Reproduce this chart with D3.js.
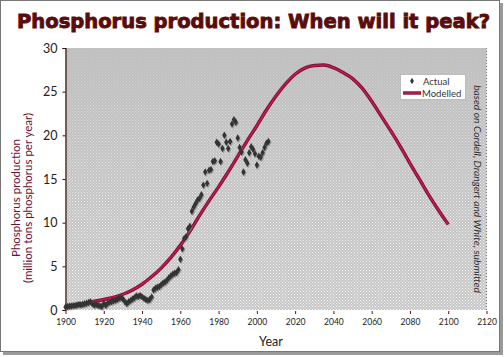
<!DOCTYPE html>
<html><head><meta charset="utf-8">
<script src="https://cdn.jsdelivr.net/npm/d3@7"></script>
<style>html,body{margin:0;padding:0;background:#fff;}svg{display:block;}</style>
</head><body>
<svg id="c" width="504" height="357"></svg>
<script>
const actualYears = d3.range(1900, 2007);
const actualValues = [
0.35,0.40,0.42,0.45,0.50,0.52,0.58,0.62,0.60,0.66,
0.72,0.78,0.85,0.95,0.70,0.58,0.62,0.55,0.45,0.40,
0.75,0.55,0.78,0.90,0.95,1.05,1.10,1.20,1.35,1.40,
1.25,0.95,0.75,0.95,1.10,1.25,1.40,1.60,1.55,1.65,
1.50,1.35,1.20,1.10,1.20,1.50,2.30,2.50,2.60,2.70,
2.90,3.10,3.20,3.40,3.70,3.90,4.10,4.20,4.30,4.60,
5.80,7.00,8.20,8.40,9.30,9.60,11.3,11.8,12.2,12.6,
12.8,13.2,14.3,15.8,14.5,16.0,16.1,17.0,17.1,19.2,
19.0,17.0,18.5,20.0,19.2,18.5,19.3,21.3,21.8,21.5,
19.7,18.6,18.1,15.8,17.2,16.8,18.0,18.7,18.4,17.9,
16.6,17.6,17.5,18.0,18.6,19.1,19.3];
const modelYears = [1914,1920,1925,1930,1935,1940,1945,1950,1955,1960,1965,1970,1975,1980,1985,1990,1995,2000,2005,2010,2015,2020,2025,2030,2035,2040,2045,2050,2055,2060,2065,2070,2075,2080,2085,2090,2095,2100];
const modelValues = [0.95,1.2,1.45,1.8,2.3,2.95,3.8,4.8,6.0,7.4,9.0,10.8,12.5,14.1,15.8,17.6,19.4,21.1,22.9,24.5,25.9,27.0,27.7,28.0,28.05,27.75,27.2,26.5,25.4,23.9,22.2,20.5,18.7,16.8,14.95,13.1,11.4,9.8];
const xTicks = [1900,1920,1940,1960,1980,2000,2020,2040,2060,2080,2100,2120];
const xTickLabels = ["1900","1920","1940","1960","1980","2000","2020","2040","2060","2080","2100","2120"];
const yTicks = [0,5,10,15,20,25,30];

const svg = d3.select("#c");
const defs = svg.append("defs");

// frame with shadow
svg.append("rect").attr("x",3).attr("y",3).attr("width",500).attr("height",352).attr("fill","#9a9a9a");
svg.append("rect").attr("x",0.5).attr("y",0.5).attr("width",499).attr("height",351).attr("fill","#fff").attr("stroke","#777");

const x = d3.scaleLinear().domain([1900,2120]).range([65.5,486.5]);
const y = d3.scaleLinear().domain([0,30]).range([310,48]);

const grad = defs.append("linearGradient").attr("id","bg").attr("x1",0).attr("y1",0).attr("x2",0).attr("y2",1);
grad.append("stop").attr("offset","0%").attr("stop-color","#bfbfbf");
grad.append("stop").attr("offset","40%").attr("stop-color","#c2c2c2");
grad.append("stop").attr("offset","100%").attr("stop-color","#c6c6c6");
const pat = defs.append("pattern").attr("id","dots").attr("width",3).attr("height",3).attr("patternUnits","userSpaceOnUse");
pat.append("rect").attr("x",0).attr("y",0).attr("width",1).attr("height",1).attr("fill","#fff");
pat.append("rect").attr("x",1.5).attr("y",1.5).attr("width",1).attr("height",1).attr("fill","#fff");
const mg = defs.append("linearGradient").attr("id","mg").attr("x1",0).attr("y1",0).attr("x2",0).attr("y2",1);
mg.append("stop").attr("offset","0%").attr("stop-color","#fff").attr("stop-opacity",0.1);
mg.append("stop").attr("offset","20%").attr("stop-color","#fff").attr("stop-opacity",0.35);
mg.append("stop").attr("offset","55%").attr("stop-color","#fff").attr("stop-opacity",0.7);
mg.append("stop").attr("offset","100%").attr("stop-color","#fff").attr("stop-opacity",0.95);
const mask = defs.append("mask").attr("id","mk");
mask.append("rect").attr("x",x(1900)).attr("y",y(30)).attr("width",x(2120)-x(1900)).attr("height",y(0)-y(30)).attr("fill","url(#mg)");

svg.append("rect").attr("x",x(1900)).attr("y",y(30)).attr("width",x(2120)-x(1900)).attr("height",y(0)-y(30)).attr("fill","url(#bg)");
svg.append("rect").attr("x",x(1900)).attr("y",y(30)).attr("width",x(2120)-x(1900)).attr("height",y(0)-y(30)).attr("fill","url(#dots)").attr("mask","url(#mk)");

// right dotted border
svg.append("line").attr("x1",x(2120)).attr("x2",x(2120)).attr("y1",y(30)).attr("y2",y(0)).attr("stroke","#777").attr("stroke-dasharray","1,2");

// title
svg.append("text").attr("x",17).attr("y",27.5).attr("textLength",473).attr("lengthAdjust","spacingAndGlyphs")
  .attr("font-family","DejaVu Sans").attr("font-weight","bold").attr("font-size",19.5).attr("fill","#5a0c0c")
  .attr("stroke","#5a0c0c").attr("stroke-width",0.9)
  .text("Phosphorus production: When will it peak?");

// y axis
const yAxis = d3.axisLeft(y).tickValues(yTicks).tickSize(3).tickFormat(d3.format("d"));
const ya = svg.append("g").attr("transform",`translate(${x(1900)},0)`).call(yAxis);
ya.select(".domain").attr("stroke","#3a0a0a").attr("stroke-width",1.2);
ya.selectAll(".tick line").attr("stroke","#3a0a0a");
ya.selectAll("text").attr("font-family","Lato, 'DejaVu Sans'").attr("font-size",12.5).attr("fill","#222").attr("x",-8);

// x axis
const xAxis = d3.axisBottom(x).tickValues(xTicks).tickSize(3).tickFormat((d,i)=>xTickLabels[i]);
const xa = svg.append("g").attr("transform",`translate(0,${y(0)})`).call(xAxis);
xa.select(".domain").remove();
xa.selectAll(".tick line").attr("stroke","#6a0a1a").attr("y1",1).attr("y2",4);
xa.selectAll("text").attr("font-family","Lato, 'DejaVu Sans'").attr("font-size",8.5).attr("fill","#222").attr("y",9);

svg.append("text").attr("x",271).attr("y",346).attr("text-anchor","middle")
  .attr("font-family","Lato, 'DejaVu Sans'").attr("font-size",12.5).attr("fill","#222").text("Year");

// y title
const yt = svg.append("text").attr("transform","translate(20,198) rotate(-90)").attr("text-anchor","middle")
  .attr("font-family","Lato, 'DejaVu Sans'").attr("font-size",11.5).attr("fill","#6a1030");
yt.append("tspan").attr("x",0).attr("dy",0).text("Phosphorus production");
yt.append("tspan").attr("x",0).attr("dy",12).text("(million tons phosphorus per year)");

// source note
svg.append("text").attr("transform","translate(474,189) rotate(90)").attr("text-anchor","middle")
  .attr("font-family","Lato, 'DejaVu Sans'").attr("font-style","italic").attr("font-size",10.3).attr("fill","#333")
  .text("based on Cordell, Drangert and White, submitted");

// model line
const line = d3.line().x((d,i)=>x(modelYears[i])).y(d=>y(d)).curve(d3.curveMonotoneX);
svg.append("path").datum(modelValues).attr("d",line).attr("fill","none").attr("stroke","#7a0f32").attr("stroke-width",3.4);
svg.append("path").datum(modelValues).attr("d",line).attr("fill","none").attr("stroke","#c01a55").attr("stroke-width",1.6);

// actual points
const diamond = d3.symbol().type(d3.symbolDiamond).size(16);
svg.append("g").selectAll("path").data(actualValues).join("path")
  .attr("d",diamond).attr("transform",(d,i)=>`translate(${x(actualYears[i])+1},${y(d)+1})`).attr("fill","#777").attr("opacity",0.6);
svg.append("g").selectAll("path").data(actualValues).join("path")
  .attr("d",diamond).attr("transform",(d,i)=>`translate(${x(actualYears[i])},${y(d)})`).attr("fill","#333");

// legend
svg.append("rect").attr("x",400.5).attr("y",74.5).attr("width",65).attr("height",25).attr("fill","#fff").attr("stroke","#999").attr("stroke-dasharray","1,1");
svg.append("path").attr("d",d3.symbol().type(d3.symbolDiamond).size(12)).attr("transform","translate(412,81)").attr("fill","#333");
svg.append("line").attr("x1",403).attr("x2",421).attr("y1",93).attr("y2",93).attr("stroke","#7a0f32").attr("stroke-width",3.4);
svg.append("line").attr("x1",403).attr("x2",421).attr("y1",93).attr("y2",93).attr("stroke","#c01a55").attr("stroke-width",1.6);
svg.append("text").attr("x",423).attr("y",84.5).attr("font-family","Lato, 'DejaVu Sans'").attr("font-size",9.5).attr("fill","#333").text("Actual");
svg.append("text").attr("x",422).attr("y",96.5).attr("font-family","Lato, 'DejaVu Sans'").attr("font-size",9.5).attr("fill","#333").text("Modelled");
</script>
</body></html>
